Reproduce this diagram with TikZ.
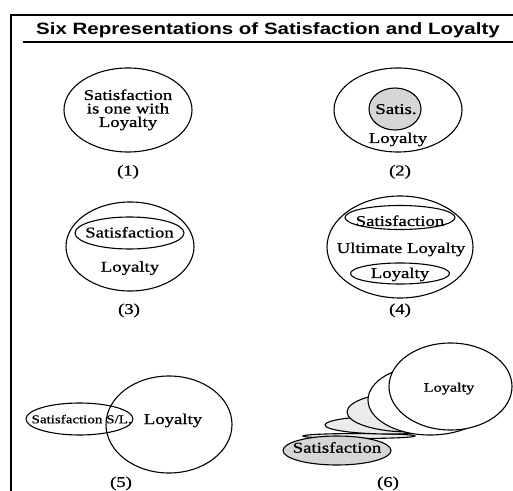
\documentclass[tikz,border=0pt]{standalone}
\usepackage{fontspec}
\usepackage{graphicx}
\setmainfont{Liberation Serif}[FakeBold=0.7]
\newfontfamily\headfont{Liberation Sans}
\newcommand{\stretchtext}[1]{\scalebox{1.25}[1]{#1}}
\begin{document}
\begin{tikzpicture}[x=1pt,y=1pt,
  lbl/.style={anchor=base, inner sep=0pt, font=\fontsize{15}{15}\selectfont},
  lblsmall/.style={lbl, font=\fontsize{12}{12}\selectfont},
  lblmid/.style={lbl, font=\fontsize{13}{13}\selectfont},
  ring/.style={line width=1.1pt},
  satfill/.style={ring, fill=gray!32},
  fadefill/.style={ring, fill=gray!16}]
\useasboundingbox (0,0) rectangle (513,490);
\fill[white] (0,0) rectangle (513,490);

% frame and heading
\draw[line width=2pt] (11,-2) -- (11,475);
\draw[line width=1.6pt] (10,475) -- (515,475);
\draw[line width=1.2pt] (23,448) -- (515,448);
\node[anchor=base, inner sep=0pt, font=\headfont\bfseries\fontsize{16.4}{16.4}\selectfont]
  (title) at (268,455) {\stretchtext{Six Representations of Satisfaction and Loyalty}};

% (1) one and the same
\draw[ring] (128,380) ellipse [x radius=64, y radius=42];
\node[lbl] (t1a) at (128,390) {\stretchtext{Satisfaction}};
\node[lbl] (t1b) at (128,376.5) {\stretchtext{is one with}};
\node[lbl] (t1c) at (128,363) {\stretchtext{Loyalty}};
\node[lbl] (n1) at (128,314.5) {\stretchtext{(1)}};

% (2) satisfaction inside loyalty
\draw[ring] (398,380) ellipse [x radius=64, y radius=42];
\draw[satfill] (395,381) ellipse [x radius=26, y radius=21];
\node[lbl] (t2a) at (396,376) {\stretchtext{Satis.}};
\node[lbl] (t2b) at (398,347) {\stretchtext{Loyalty}};
\node[lbl] (n2) at (400,314.5) {\stretchtext{(2)}};

% (3) satisfaction as a part of loyalty
\draw[ring] (130,243.5) ellipse [x radius=64, y radius=44.5];
\draw[ring] (129.5,257) ellipse [x radius=54.5, y radius=16];
\node[lbl] (t3a) at (129.5,252.5) {\stretchtext{Satisfaction}};
\node[lbl] (t3b) at (130,218.3) {\stretchtext{Loyalty}};
\node[lbl] (n3) at (129,176) {\stretchtext{(3)}};

% (4) both inside ultimate loyalty
\draw[ring] (400,243) ellipse [x radius=73, y radius=51];
\draw[ring] (400,272.5) ellipse [x radius=55, y radius=12];
\draw[ring] (400,216.5) ellipse [x radius=49.5, y radius=10.5];
\node[lbl] (t4a) at (400,264) {\stretchtext{Satisfaction}};
\node[lbl] (t4b) at (401,237) {\stretchtext{Ultimate Loyalty}};
\node[lbl] (t4c) at (400,212) {\stretchtext{Loyalty}};
\node[lbl] (n4) at (400,176) {\stretchtext{(4)}};

% (5) overlapping sets
\draw[ring] (169,65.5) ellipse [x radius=63, y radius=48.5];
\draw[ring] (79.5,71) ellipse [x radius=53.5, y radius=16];
\node[lblsmall] (t5a) at (67,66.7) {\stretchtext{Satisfaction}};
\node[lblsmall] (t5b) at (119,66.7) {\stretchtext{S/L.}};
\node[lbl] (t5c) at (173,66) {\stretchtext{Loyalty}};
\node[lbl] (n5) at (121,3) {\stretchtext{(5)}};

% (6) satisfaction turning into loyalty
\draw[fadefill] (359,54) ellipse [x radius=56, y radius=2.5];
\draw[fadefill] (390,65) ellipse [x radius=65, y radius=9];
\draw[fadefill] (410,78) ellipse [x radius=63, y radius=20];
\draw[ring, fill=white] (430,90) ellipse [x radius=62, y radius=35];
\draw[ring, fill=white] (450.5,103.5) ellipse [x radius=61.5, y radius=43.5];
\draw[satfill] (337,39.5) ellipse [x radius=54, y radius=14.5];
\node[lblmid] (t6a) at (449,98.3) {\stretchtext{Loyalty}};
\node[lbl] (t6b) at (337,37.3) {\stretchtext{Satisfaction}};
\node[lbl] (n6) at (388,3) {\stretchtext{(6)}};
\end{tikzpicture}
\end{document}
